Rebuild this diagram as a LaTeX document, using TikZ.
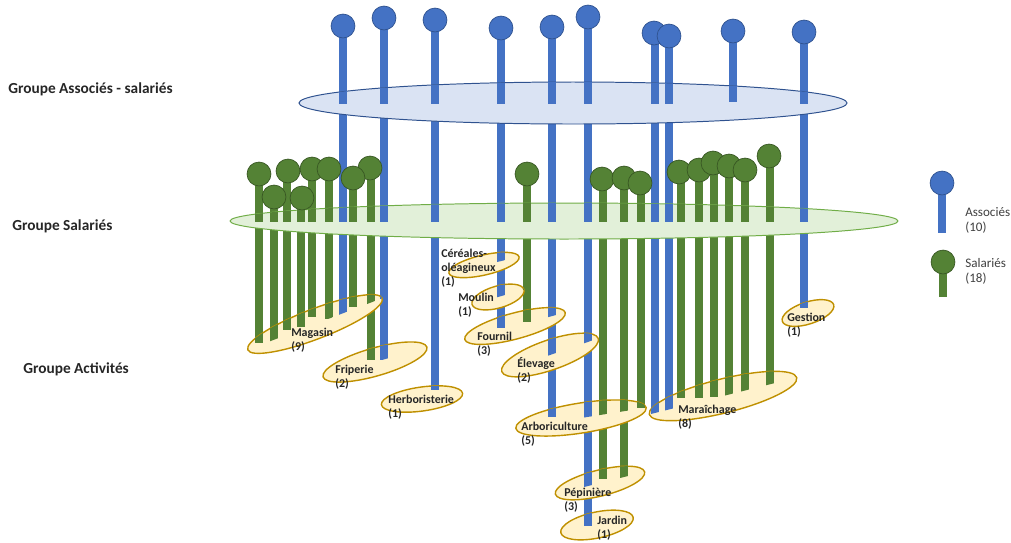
\documentclass[tikz,border=0pt]{standalone}
\usepackage{fontspec}
\setmainfont{Carlito}
\usepackage{tikz}
\usetikzlibrary{positioning}

\definecolor{assoc}{HTML}{4472C4}
\definecolor{assocdark}{HTML}{2F528F}
\definecolor{assocfill}{HTML}{DAE3F3}
\definecolor{salar}{HTML}{548235}
\definecolor{salardark}{HTML}{385723}
\definecolor{salarfill}{HTML}{E2F0D9}
\definecolor{salarline}{HTML}{70AD47}
\definecolor{actfill}{HTML}{FFF2CC}
\definecolor{actline}{HTML}{BF9000}
\definecolor{txt}{HTML}{262626}
\definecolor{legtxt}{HTML}{404040}

% all stems, from the head down to the last activity (px)
\newcommand{\stems}{%
  % associes
  \draw[bstem] (343,26) -- (343,322);
  \draw[bstem] (384,18) -- (384,360);
  \draw[bstem] (435,20) -- (435,390);
  \draw[bstem] (501,28) -- (501,328);
  \draw[bstem] (552,27) -- (552,417);
  \draw[bstem] (588,17) -- (588,526);
  \draw[bstem] (655,33) -- (655,414);
  \draw[bstem] (669,36) -- (669,415);
  \draw[bstem] (733,31) -- (733,102);
  \draw[bstem] (804,32) -- (804,308);
  % salaries
  \draw[gstem] (259,174) -- (259,343);
  \draw[gstem] (274,198) -- (274,342);
  \draw[gstem] (287,170) -- (287,330);
  \draw[gstem] (301,198) -- (301,327);
  \draw[gstem] (312,169) -- (312,317);
  \draw[gstem] (329,169) -- (329,319);
  \draw[gstem] (353,178) -- (353,307);
  \draw[gstem] (371,168) -- (371,360);
  \draw[gstem] (527,174) -- (527,322);
  \draw[gstem] (603,179) -- (603,479);
  \draw[gstem] (624,178) -- (624,478);
  \draw[gstem] (641,183) -- (641,408);
  \draw[gstem] (681,172) -- (681,398);
  \draw[gstem] (699,170) -- (699,398);
  \draw[gstem] (714,163) -- (714,397);
  \draw[gstem] (729,166) -- (729,397);
  \draw[gstem] (745,170) -- (745,397);
  \draw[gstem] (770,156) -- (770,391);
}

% ellipse {style}{x}{y}{half length}{half width}{angle}: stems show above its middle
\newcommand{\groupe}[6]{%
  \draw[#1, shift={(#2,#3)}, rotate=#6] (0,0) ellipse [x radius=#4, y radius=#5];
  \begin{scope}
    \clip[shift={(#2,#3)}, rotate=#6] (0,0) ellipse [x radius=#4, y radius=#5];
    \clip[shift={(#2,#3)}, rotate=#6] (-#4,0) -- (#4,0) -- (#4,-#5) -- (-#4,-#5) -- cycle;
    \stems
  \end{scope}}

\begin{document}
\begin{tikzpicture}[x=0.025cm, y=-0.025cm,
  bstem/.style={assoc, line width=5pt},
  gstem/.style={salar, line width=5pt},
  bhead/.style={circle, minimum size=17pt, inner sep=0pt, fill=assoc, draw=assocdark, line width=0.5pt},
  ghead/.style={circle, minimum size=17pt, inner sep=0pt, fill=salar, draw=salardark, line width=0.5pt},
  bgroup/.style={fill=assocfill, draw=assocdark, line width=0.7pt},
  ggroup/.style={fill=salarfill, draw=salarline, line width=0.7pt},
  agroup/.style={fill=actfill, draw=actline, line width=1pt},
  grp/.style={anchor=west, inner sep=0pt, text=txt, font=\fontsize{10.9}{13}\selectfont\bfseries},
  act/.style={anchor=west, inner sep=0pt, align=left, text=txt, font=\fontsize{8.5}{10}\selectfont\bfseries},
  leg/.style={anchor=west, inner sep=0pt, align=left, text=legtxt, font=\fontsize{9.3}{10.8}\selectfont}]
\useasboundingbox (0,0) rectangle (1011,542);

% stems
\stems

% groupe associes - salaries
\groupe{bgroup}{573}{103}{274}{21}{0}
\node[bhead] (b1) at (343,26) {};
\node[bhead] (b2) at (384,18) {};
\node[bhead] (b3) at (435,20) {};
\node[bhead] (b4) at (501,28) {};
\node[bhead] (b5) at (552,27) {};
\node[bhead] (b6) at (588,17) {};
\node[bhead] (b7) at (654,33) {};
\node[bhead] (b8) at (669,36) {};
\node[bhead] (b9) at (733,31) {};
\node[bhead] (b10) at (804,32) {};

% groupe salaries
\groupe{ggroup}{564}{221}{334}{18}{0}
\node[ghead] (g1) at (259,174) {};
\node[ghead] (g2) at (274,197) {};
\node[ghead] (g3) at (288,171) {};
\node[ghead] (g4) at (302,198) {};
\node[ghead] (g5) at (312,169) {};
\node[ghead] (g6) at (329,169) {};
\node[ghead] (g8) at (370,168) {};
\node[ghead] (g7) at (353,178) {};
\node[ghead] (g9) at (527,174) {};
\node[ghead] (g10) at (602,179) {};
\node[ghead] (g11) at (624,178) {};
\node[ghead] (g12) at (640,183) {};
\node[ghead] (g13) at (679,172) {};
\node[ghead] (g14) at (699,170) {};
\node[ghead] (g15) at (713,163) {};
\node[ghead] (g16) at (729,166) {};
\node[ghead] (g17) at (745,170) {};
\node[ghead] (g18) at (769,156) {};

% groupe activites
\groupe{agroup}{484}{265}{36}{10}{13}
\groupe{agroup}{315}{324}{72}{15}{21}
\groupe{agroup}{498}{297}{27}{11}{16}
\groupe{agroup}{808}{313}{27}{11}{18}
\groupe{agroup}{515}{326}{52}{13}{15}
\groupe{agroup}{550}{355}{51}{15}{19}
\groupe{agroup}{375}{362}{54}{14}{16}
\groupe{agroup}{723}{396}{76}{17}{14}
\groupe{agroup}{422}{399}{41}{12}{8}
\groupe{agroup}{581}{418}{66}{15}{9}
\groupe{agroup}{600}{483}{46}{13}{14}
\groupe{agroup}{597}{525}{37}{13}{12}

% labels
\node[grp] (lassocies) at (8,89) {Groupe Associés - salariés};
\node[grp] (lsalaries) at (12,226) {Groupe Salariés};
\node[grp] (lactivites) at (23,369) {Groupe Activités};

\node[act] (magasin) at (291,340.5) {Magasin\\(9)};
\node[act] (friperie) at (335,377) {Friperie\\(2)};
\node[act] (herbo) at (388,407) {Herboristerie\\(1)};
\node[act] (cereales) at (441,268.5) {Céréales-\\oléagineux\\(1)};
\node[act] (moulin) at (458,305) {Moulin\\(1)};
\node[act] (fournil) at (477,344.5) {Fournil\\(3)};
\node[act] (elevage) at (517,370) {Élevage\\(2)};
\node[act] (arbo) at (521,434.5) {Arboriculture\\(5)};
\node[act] (pepiniere) at (564,500) {Pépinière\\(3)};
\node[act] (jardin) at (597,528) {Jardin\\(1)};
\node[act] (maraichage) at (678,417) {Maraîchage\\(8)};
\node[act] (gestion) at (787,325.5) {Gestion\\(1)};

% legend
\coordinate (lbend) at (942,233);
\coordinate (lgend) at (943,297);
\draw[bstem] (942,183) -- (lbend);
\draw[gstem] (943,262) -- (lgend);
\node[bhead] (lb) at (942,183) {};
\node[ghead] (lg) at (943,262) {};
\node[leg] (lassoc) at (965,220.5) {Associés\\(10)};
\node[leg] (lsal) at (965,271) {Salariés\\(18)};
\end{tikzpicture}
\end{document}
